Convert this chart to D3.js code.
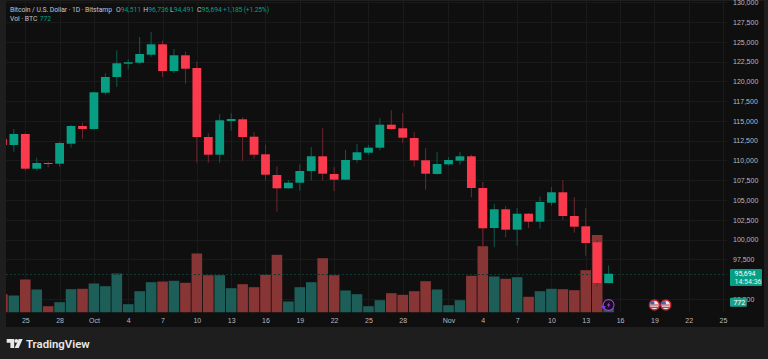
<!DOCTYPE html>
<html>
<head>
<meta charset="utf-8">
<script src="https://cdn.jsdelivr.net/npm/d3@7"></script>
<style>
  html, body { margin: 0; padding: 0; background: #1e1e1e; overflow: hidden; }
  svg { display: block; font-family: Roboto, "Noto Sans", sans-serif; }
  .domain { display: none; }
  .tick line { display: none; }
  .tick text { fill: #b8bac0; font-size: 7px; }
</style>
</head>
<body>
<svg id="chart" width="768" height="359"></svg>
<script>
const days = [
  "2025-09-23","2025-09-24","2025-09-25","2025-09-26","2025-09-27","2025-09-28","2025-09-29","2025-09-30",
  "2025-10-01","2025-10-02","2025-10-03","2025-10-04","2025-10-05","2025-10-06","2025-10-07","2025-10-08",
  "2025-10-09","2025-10-10","2025-10-11","2025-10-12","2025-10-13","2025-10-14","2025-10-15","2025-10-16",
  "2025-10-17","2025-10-18","2025-10-19","2025-10-20","2025-10-21","2025-10-22","2025-10-23","2025-10-24",
  "2025-10-25","2025-10-26","2025-10-27","2025-10-28","2025-10-29","2025-10-30","2025-10-31","2025-11-01",
  "2025-11-02","2025-11-03","2025-11-04","2025-11-05","2025-11-06","2025-11-07","2025-11-08","2025-11-09",
  "2025-11-10","2025-11-11","2025-11-12","2025-11-13","2025-11-14","2025-11-15"
];
const opens = [
  112717,111959,113348,108964,109685,109596,112123,114359,
  113980,118566,120550,122230,122356,123367,124681,121308,
  123291,121687,112969,110733,114991,115206,113007,110784,
  108168,106488,107196,108674,110531,108295,107575,110064,
  110986,111618,114523,114069,112843,110026,108295,109520,
  109975,110531,106526,101472,103835,101258,103279,102269,
  104669,105983,102989,101687,99666,94511
];
const highs = [
  112970,113980,113513,110354,109849,112338,114485,114776,
  118655,121017,123923,122786,125603,126235,125136,124087,
  123746,122483,113437,115837,115964,115458,113601,111997,
  109268,107537,109520,111706,114069,109179,111327,112085,
  111959,115370,116343,116039,113601,111580,111074,110443,
  111074,110733,107284,104505,104252,103999,103330,105427,
  106652,107499,105351,103999,99956,96736
];
const lows = [
  111706,111112,108712,108712,109141,109217,111618,112755,
  113917,118314,119286,121523,122154,123115,120550,121055,
  119703,109723,109723,109723,113765,109975,110228,107448,
  103532,106438,106185,107448,107448,106147,107537,109723,
  110733,111289,113854,112211,109217,106311,108232,109343,
  109470,105351,99034,99034,100297,99236,101472,101384,
  104290,102483,100879,97973,94056,94491
];
const closes = [
  111959,113348,108964,109685,109596,112211,114359,113980,
  118617,120550,122281,122407,123456,124681,121308,123291,
  121598,112969,110733,115079,115244,112969,110733,108206,
  106488,107196,108674,110531,108333,107575,110064,111036,
  111618,114523,113980,112881,110026,108333,109558,110064,
  110531,106526,101435,103835,101258,103279,102269,104757,
  105983,102989,101637,99577,94524,95694
];
const volumes = [
  3140,2915,5660,3945,1080,1770,4000,4065,
  4975,4510,6690,1425,3655,5195,5315,5435,
  5095,10120,6400,6400,4170,4855,4340,6465,
  9895,1885,4340,5195,9310,6400,3775,3140,
  1080,2110,3310,3035,3655,5370,3945,1250,
  2110,6295,11370,6175,5780,6055,2690,3655,
  4065,3995,3825,7255,13290,772
];
const priceTicks = [92500,97500,100000,102500,105000,107500,110000,112500,115000,117500,120000,122500,125000,127500,130000];
const tickDays = ["2025-09-25","2025-09-28","2025-10-01","2025-10-04","2025-10-07","2025-10-10","2025-10-13","2025-10-16","2025-10-19","2025-10-22","2025-10-25","2025-10-28","2025-11-01","2025-11-04","2025-11-07","2025-11-10","2025-11-13","2025-11-16","2025-11-19","2025-11-22","2025-11-25"];
const tickLabels = ["25","28","Oct","4","7","10","13","16","19","22","25","28","Nov","4","7","10","13","16","19","22","25"];
const eventDays = ["2025-11-19","2025-11-20"];
const ohlcKeys = ["O","H","L","C"];
const ohlcValues = ["94,511","96,736","94,491","95,694"];
const lastPrice = 95694;

const COLORS = {
  up: "#089e84",
  down: "#fb3a4e",
  upVol: "#1d5f58",
  downVol: "#873535",
  upWick: "#0e5a4e",
  downWick: "#6e2730",
  grid: "#1a1a1a",
  pane: "#0f0f0f",
  outer: "#1e1e1e",
  text: "#c4c6cc"
};

const parse = d3.utcParse("%Y-%m-%d");
const pane = { left: 6, right: 764, top: 1, bottom: 327, plotBottom: 312.5 };

const x = d3.scaleUtc()
  .domain([parse("2025-09-25"), parse("2025-11-25")])
  .range([25.3, 723]);
const y = d3.scaleLinear()
  .domain([130000, 92500])
  .range([2.2, 299]);
const yVol = d3.scaleLinear()
  .domain([0, 13290])
  .range([pane.plotBottom, 235]);

const svg = d3.select("#chart");

svg.append("rect")
  .attr("x", pane.left).attr("y", pane.top)
  .attr("width", pane.right - pane.left).attr("height", pane.bottom - pane.top)
  .attr("fill", COLORS.pane);

svg.append("clipPath").attr("id", "plot")
  .append("rect")
  .attr("x", pane.left).attr("y", pane.top)
  .attr("width", pane.right - pane.left).attr("height", pane.plotBottom - pane.top);

// Grid
const grid = svg.append("g").attr("stroke", COLORS.grid).attr("clip-path", "url(#plot)");
grid.selectAll("line.h")
  .data(priceTicks)
  .join("line")
  .attr("class", "h")
  .attr("x1", pane.left).attr("x2", 727)
  .attr("y1", d => Math.round(y(d)) + 0.5)
  .attr("y2", d => Math.round(y(d)) + 0.5);
grid.selectAll("line.v")
  .data(tickDays)
  .join("line")
  .attr("class", "v")
  .attr("x1", d => Math.round(x(parse(d))) + 0.5)
  .attr("x2", d => Math.round(x(parse(d))) + 0.5)
  .attr("y1", pane.top).attr("y2", pane.plotBottom);

const plot = svg.append("g").attr("clip-path", "url(#plot)");
const idx = d3.range(days.length);
const cx = i => x(parse(days[i]));
const isUp = i => closes[i] >= opens[i];

// Volume pane sits under the candles
plot.selectAll("rect.vol")
  .data(idx)
  .join("rect")
  .attr("class", "vol")
  .attr("x", i => cx(i) - 5.3)
  .attr("width", 10.6)
  .attr("y", i => yVol(volumes[i]))
  .attr("height", i => yVol(0) - yVol(volumes[i]))
  .attr("fill", i => isUp(i) ? COLORS.upVol : COLORS.downVol);

// Last price line
plot.append("line")
  .attr("x1", pane.left).attr("x2", 727)
  .attr("y1", Math.round(y(lastPrice)) + 0.5).attr("y2", Math.round(y(lastPrice)) + 0.5)
  .attr("stroke", "#123a33")
  .attr("stroke-dasharray", "2,2");

// Candles
plot.selectAll("line.wick")
  .data(idx)
  .join("line")
  .attr("class", "wick")
  .attr("x1", cx).attr("x2", cx)
  .attr("y1", i => y(highs[i])).attr("y2", i => y(lows[i]))
  .attr("stroke", i => isUp(i) ? COLORS.upWick : COLORS.downWick);
plot.selectAll("rect.body")
  .data(idx)
  .join("rect")
  .attr("class", "body")
  .attr("x", i => cx(i) - 4.4)
  .attr("width", 8.8)
  .attr("y", i => y(Math.max(opens[i], closes[i])))
  .attr("height", i => Math.max(1, Math.abs(y(opens[i]) - y(closes[i]))))
  .attr("fill", i => isUp(i) ? COLORS.up : COLORS.down);

// Axes
svg.append("g")
  .attr("transform", `translate(0,${pane.plotBottom})`)
  .call(d3.axisBottom(x)
    .tickValues(tickDays.map(parse))
    .tickSize(0)
    .tickPadding(4)
    .tickFormat((d, i) => tickLabels[i]))
  .selectAll("text")
  .attr("dy", "0.95em");
svg.append("g")
  .attr("transform", "translate(733,0)")
  .call(d3.axisRight(y).tickValues(priceTicks).tickSize(0).tickPadding(0).tickFormat(d3.format(",")));

// Legend
const legend = svg.append("g").attr("font-size", 6.8).attr("fill", COLORS.text);
legend.append("text").attr("x", 10).attr("y", 12)
  .attr("textLength", 102)
  .text("Bitcoin / U.S. Dollar · 1D · Bitstamp");
[116, 143.3, 170, 197].forEach((px, i) => {
  const t = legend.append("text").attr("x", px).attr("y", 12);
  t.append("tspan").text(ohlcKeys[i]);
  t.append("tspan").attr("fill", COLORS.up).text(ohlcValues[i]);
});
legend.append("text").attr("x", 223).attr("y", 12)
  .attr("fill", COLORS.up).attr("textLength", 46)
  .text("+1,185 (+1.25%)");
legend.append("text").attr("x", 10).attr("y", 21).text("Vol · BTC");
legend.append("text").attr("x", 39.7).attr("y", 21).attr("fill", COLORS.up).text("772");

// Price labels
svg.append("rect").attr("x", 730).attr("y", 269).attr("width", 32).attr("height", 17).attr("rx", 1).attr("fill", COLORS.up);
svg.append("text").attr("x", 734.5).attr("y", 276).attr("font-size", 7).attr("fill", "#fff").text(d3.format(",")(lastPrice));
svg.append("text").attr("x", 734.5).attr("y", 284).attr("font-size", 7).attr("fill", "#e6f4f1").text("14:54:36");
svg.append("rect").attr("x", 730).attr("y", 297.7).attr("width", 16.8).attr("height", 9).attr("rx", 1).attr("fill", "#1aa08b");
svg.append("text").attr("x", 733.4).attr("y", 305).attr("font-size", 7).attr("fill", "#fff").text("772");

// Event markers
const markerY = 305;
const bolt = svg.append("g").attr("transform", `translate(${cx(53)},${markerY})`);
bolt.append("circle").attr("r", 5.4).attr("fill", "#140e1c").attr("stroke", "#a23fd8").attr("stroke-width", 1.1);
bolt.append("path").attr("d", "M1.2,-3.2L-1.8,0.5H-0.2L-1.2,3.2L1.8,-0.5H0.2Z").attr("fill", "#a23fd8");
svg.append("path")
  .attr("transform", `translate(${cx(53) - 5.3},306.7)`)
  .attr("d", "M-0.7,-2.2H0.7V-0.7H2.2V0.7H0.7V2.2H-0.7V0.7H-2.2V-0.7H-0.7Z")
  .attr("fill", "#6d45e6");
eventDays.forEach(d => {
  const g = svg.append("g").attr("transform", `translate(${x(parse(d))},${markerY})`);
  g.append("circle").attr("r", 5).attr("fill", "#e4e4ea").attr("stroke", "#c4242c").attr("stroke-width", 1.4);
  g.append("path").attr("d", "M-4,-0.6H4V0.6H-4ZM-4,1.8H4V3H-4Z").attr("fill", "#d03a40");
  g.append("path").attr("d", "M-4,-3.8H0V-0.6H-4Z").attr("fill", "#3f62b4");
});

// Logo
const logo = svg.append("g").attr("transform", "translate(6.7,339)").attr("fill", "#e8e8e8");
logo.append("path").attr("d", "M0,0H7.5V9H3.7V3.8H0Z");
logo.append("circle").attr("cx", 9.6).attr("cy", 1.9).attr("r", 1.9);
logo.append("path").attr("d", "M12,0H16L12,9H8Z");
svg.append("text").attr("x", 26).attr("y", 347.5)
  .attr("font-size", 11.4).attr("font-weight", 600).attr("fill", "#e8e8e8").text("TradingView");
</script>
</body>
</html>
